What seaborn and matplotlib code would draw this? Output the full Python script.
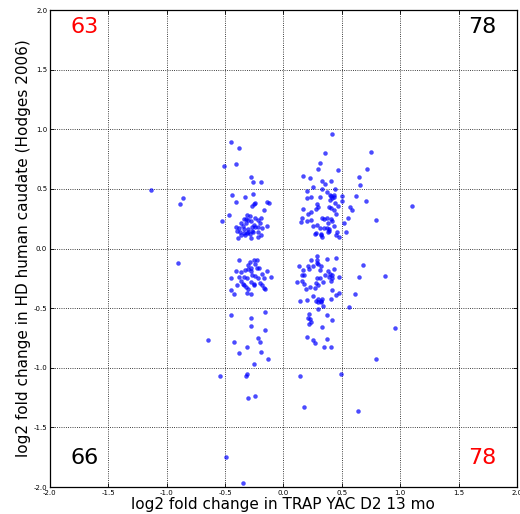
import numpy as np
import pandas as pd
import seaborn as sns
import matplotlib
matplotlib.use("Agg")
import matplotlib.pyplot as plt

# log2 fold changes: TRAP YAC D2 13 mo (x) vs HD human caudate, Hodges 2006 (y)
upper_left_x = [-1.13, -0.89, -0.86, -0.51, -0.45, -0.38, -0.41, -0.28, -0.26, -0.19,
                -0.44, -0.26, -0.41, -0.33, -0.24, -0.27, -0.25, -0.14, -0.12, -0.17,
                -0.47, -0.53, -0.31, -0.29, -0.34, -0.30, -0.28, -0.24, -0.19, -0.22,
                -0.36, -0.32, -0.41, -0.38, -0.34, -0.30, -0.27, -0.24, -0.22, -0.18,
                -0.14, -0.37, -0.34, -0.30, -0.26, -0.22, -0.36, -0.33, -0.39, -0.28,
                -0.22, -0.19, -0.35, -0.25, -0.29, -0.40, -0.32, -0.20, -0.27, -0.31]
upper_left_y = [0.49, 0.37, 0.42, 0.69, 0.89, 0.84, 0.71, 0.60, 0.56, 0.56,
                0.45, 0.46, 0.39, 0.43, 0.38, 0.36, 0.37, 0.39, 0.38, 0.32,
                0.28, 0.23, 0.28, 0.27, 0.25, 0.24, 0.23, 0.26, 0.26, 0.24,
                0.21, 0.21, 0.18, 0.17, 0.16, 0.16, 0.18, 0.18, 0.18, 0.17,
                0.19, 0.14, 0.13, 0.14, 0.14, 0.14, 0.11, 0.11, 0.09, 0.09,
                0.10, 0.11, 0.19, 0.20, 0.12, 0.15, 0.25, 0.21, 0.15, 0.13]

upper_right_x = [0.42, 0.36, 0.75, 0.31, 0.30, 0.47, 0.72, 0.17, 0.23, 0.65,
                 0.33, 0.41, 0.36, 0.66, 0.25, 0.20, 0.33, 0.44, 0.37, 0.40,
                 0.41, 0.42, 0.43, 0.40, 0.43, 0.50, 0.50, 0.20, 0.24, 0.31,
                 0.62, 0.71, 0.29, 0.30, 0.47, 0.17, 0.24, 0.28, 0.39, 0.41,
                 0.43, 0.57, 0.59, 0.16, 0.21, 0.24, 0.20, 0.15, 0.33, 0.35,
                 0.37, 0.41, 0.42, 0.45, 0.55, 0.79, 0.25, 0.29, 0.31, 0.35,
                 0.37, 0.39, 0.43, 0.52, 0.28, 0.27, 0.32, 0.33, 0.32, 0.39,
                 0.38, 0.46, 0.54, 0.45, 0.48, 1.10, 0.44, 0.38]
upper_right_y = [0.96, 0.80, 0.81, 0.72, 0.67, 0.66, 0.67, 0.61, 0.59, 0.60,
                 0.57, 0.57, 0.54, 0.53, 0.52, 0.48, 0.50, 0.50, 0.47, 0.45,
                 0.44, 0.42, 0.43, 0.41, 0.45, 0.44, 0.40, 0.42, 0.43, 0.43,
                 0.44, 0.40, 0.37, 0.35, 0.36, 0.33, 0.31, 0.33, 0.35, 0.34,
                 0.32, 0.35, 0.32, 0.26, 0.29, 0.24, 0.23, 0.22, 0.26, 0.25,
                 0.26, 0.25, 0.23, 0.29, 0.26, 0.24, 0.19, 0.20, 0.17, 0.17,
                 0.17, 0.16, 0.19, 0.21, 0.13, 0.12, 0.12, 0.10, 0.11, 0.15,
                 0.14, 0.14, 0.14, 0.11, 0.10, 0.36, 0.38, 0.21]

lower_left_x = [-0.38, -0.29, -0.25, -0.23, -0.30, -0.28, -0.24, -0.41, -0.33, -0.30,
                -0.28, -0.23, -0.21, -0.18, -0.14, -0.45, -0.38, -0.34, -0.31, -0.24,
                -0.22, -0.17, -0.11, -0.36, -0.28, -0.35, -0.34, -0.25, -0.25, -0.18,
                -0.17, -0.32, -0.30, -0.16, -0.45, -0.42, -0.31, -0.28, -0.45, -0.28,
                -0.16, -0.28, -0.16, -0.65, -0.42, -0.22, -0.20, -0.31, -0.38, -0.19,
                -0.13, -0.25, -0.54, -0.31, -0.32, -0.30, -0.24, -0.49, -0.35, -0.90,
                -0.36, -0.27, -0.20, -0.40]
lower_left_y = [-0.10, -0.11, -0.10, -0.10, -0.14, -0.16, -0.13, -0.19, -0.18, -0.17,
                -0.19, -0.16, -0.16, -0.21, -0.19, -0.25, -0.24, -0.24, -0.25, -0.23,
                -0.25, -0.25, -0.24, -0.27, -0.28, -0.30, -0.31, -0.30, -0.31, -0.31,
                -0.33, -0.32, -0.34, -0.34, -0.35, -0.38, -0.37, -0.38, -0.56, -0.58,
                -0.53, -0.65, -0.68, -0.77, -0.78, -0.75, -0.78, -0.83, -0.88, -0.87,
                -0.93, -0.97, -1.07, -1.05, -1.07, -1.25, -1.24, -1.75, -1.97, -0.12,
                -0.20, -0.22, -0.29, -0.31]

lower_right_x = [0.29, 0.24, 0.29, 0.37, 0.45, 0.29, 0.30, 0.32, 0.31, 0.13,
                 0.17, 0.21, 0.22, 0.25, 0.43, 0.68, 0.65, 0.87, 0.16, 0.18,
                 0.12, 0.16, 0.29, 0.31, 0.36, 0.39, 0.40, 0.42, 0.42, 0.41,
                 0.48, 0.18, 0.19, 0.23, 0.27, 0.30, 0.28, 0.42, 0.45, 0.48,
                 0.61, 0.25, 0.14, 0.20, 0.28, 0.30, 0.32, 0.33, 0.30, 0.32,
                 0.34, 0.41, 0.56, 0.30, 0.22, 0.21, 0.23, 0.24, 0.37, 0.42,
                 0.33, 0.22, 0.20, 0.37, 0.25, 0.27, 0.35, 0.41, 0.79, 0.49,
                 0.14, 0.18, 0.64, 0.96, 0.38, 0.34]
lower_right_y = [-0.06, -0.10, -0.10, -0.09, -0.08, -0.12, -0.13, -0.15, -0.18, -0.15,
                 -0.18, -0.15, -0.17, -0.15, -0.17, -0.14, -0.24, -0.23, -0.22, -0.22,
                 -0.28, -0.27, -0.25, -0.25, -0.22, -0.24, -0.21, -0.22, -0.25, -0.27,
                 -0.24, -0.30, -0.34, -0.32, -0.33, -0.31, -0.29, -0.35, -0.39, -0.37,
                 -0.38, -0.40, -0.44, -0.43, -0.44, -0.42, -0.44, -0.42, -0.45, -0.45,
                 -0.48, -0.42, -0.49, -0.51, -0.55, -0.58, -0.59, -0.62, -0.56, -0.60,
                 -0.66, -0.63, -0.74, -0.76, -0.77, -0.79, -0.83, -0.83, -0.93, -1.05,
                 -1.07, -1.33, -1.36, -0.67, -0.19, -0.28]

quadrant_counts = {"upper_left": "63", "upper_right": "78",
                   "lower_left": "66", "lower_right": "78"}

x_label = "log2 fold change in TRAP YAC D2 13 mo"
y_label = "log2 fold change in HD human caudate (Hodges 2006)"
ticks = [-2.0, -1.5, -1.0, -0.5, 0.0, 0.5, 1.0, 1.5, 2.0]

df = pd.DataFrame({
    "x": upper_left_x + upper_right_x + lower_left_x + lower_right_x,
    "y": upper_left_y + upper_right_y + lower_left_y + lower_right_y,
})

sns.set_style("white")
plt.rcParams["font.family"] = ["DejaVu Sans"]
plt.rcParams["text.color"] = "black"
plt.rcParams["axes.labelcolor"] = "black"
plt.rcParams["xtick.color"] = "black"
plt.rcParams["ytick.color"] = "black"

fig = plt.figure(figsize=(5.2, 5.14), dpi=100)
ax = fig.add_axes([0.096, 0.0525, 0.898, 0.928])

sns.scatterplot(data=df, x="x", y="y", ax=ax, color="#0000ff", alpha=0.7,
                s=8, edgecolor="#0000ff", linewidth=0.3)

ax.set_xlim(-2, 2)
ax.set_ylim(-2, 2)
ax.set_xticks(ticks)
ax.set_yticks(ticks)
ax.set_xticklabels([f"{t:.1f}" for t in ticks], fontsize=5)
ax.set_yticklabels([f"{t:.1f}" for t in ticks], fontsize=5)
ax.tick_params(direction="in", length=3, width=0.6, top=True, right=True,
               bottom=True, left=True, pad=2, colors="black")
ax.grid(True, color="black", linestyle=":", linewidth=0.6)
for sp in ax.spines.values():
    sp.set_visible(True)
    sp.set_color("black")
    sp.set_linewidth(0.9)

ax.set_xlabel(x_label, fontsize=11, labelpad=1, color="black")
ax.set_ylabel(y_label, fontsize=11, labelpad=2, color="black")

ax.text(-1.7, 1.86, quadrant_counts["upper_left"], color="red", fontsize=16,
        ha="center", va="center")
ax.text(1.7, 1.86, quadrant_counts["upper_right"], color="black", fontsize=16,
        ha="center", va="center")
ax.text(-1.7, -1.76, quadrant_counts["lower_left"], color="black", fontsize=16,
        ha="center", va="center")
ax.text(1.7, -1.76, quadrant_counts["lower_right"], color="red", fontsize=16,
        ha="center", va="center")

fig.savefig("out.png", dpi=100)
